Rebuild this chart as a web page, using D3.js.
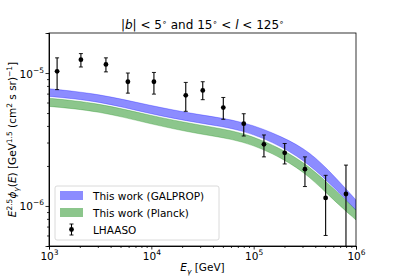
<!DOCTYPE html>
<html>
<head>
<meta charset="utf-8">
<script src="https://cdn.jsdelivr.net/npm/d3@7"></script>
<style>
  body { margin: 0; background: #fff; }
  text { font-family: "DejaVu Sans", sans-serif; fill: #000; }
  .axis path, .axis line { stroke: #000; stroke-width: 0.8; }
</style>
</head>
<body>
<script>
// LHAASO points
const energies = [1200, 2050, 3600, 5900, 10600, 21700, 31800, 50500, 80000, 126000, 201000, 317000, 505000, 798000];
const flux     = [1.03e-5, 1.26e-5, 1.16e-5, 8.6e-6, 8.6e-6, 6.8e-6, 7.4e-6, 5.5e-6, 4.16e-6, 2.91e-6, 2.51e-6, 1.89e-6, 1.15e-6, 1.23e-6];
const fluxLow  = [7.5e-6, 1.11e-5, 1.02e-5, 7.06e-6, 6.94e-6, 5.15e-6, 6.3e-6, 4.49e-6, 3.36e-6, 2.34e-6, 2.07e-6, 1.4e-6, 6.0e-7, 3.0e-7];
const fluxHigh = [1.3e-5, 1.4e-5, 1.3e-5, 1.0e-5, 1.01e-5, 8.5e-6, 8.6e-6, 6.55e-6, 4.94e-6, 3.42e-6, 2.95e-6, 2.34e-6, 1.7e-6, 2.03e-6];

// model bands
const bandE     = [1000, 3080, 9500, 29200, 79300, 195000, 356000, 600000, 1000000];
const galpropHi = [7.62e-6, 6.98e-6, 5.71e-6, 4.84e-6, 4.36e-6, 3.30e-6, 2.55e-6, 1.71e-6, 1.11e-6];
const galpropLo = [6.67e-6, 6.15e-6, 4.94e-6, 4.19e-6, 3.76e-6, 2.78e-6, 2.03e-6, 1.40e-6, 9.3e-7];
const planckHi  = [6.47e-6, 5.94e-6, 4.81e-6, 4.05e-6, 3.61e-6, 2.66e-6, 1.97e-6, 1.36e-6, 9.3e-7];
const planckLo  = [5.61e-6, 5.18e-6, 4.16e-6, 3.46e-6, 3.12e-6, 2.28e-6, 1.66e-6, 1.11e-6, 7.85e-7];

const xTicks = [1e3, 1e4, 1e5, 1e6];
const xTickExp = ["3", "4", "5", "6"];
const yTicks = [1e-6, 1e-5];
const yTickExp = ["\u22126", "\u22125"];

const W = 396, H = 277;
const margin = {top: 33, right: 40, bottom: 31, left: 49};
const width = W - margin.left - margin.right;
const height = H - margin.top - margin.bottom;

const svg = d3.select("body").append("svg")
  .attr("width", W).attr("height", H);

const g = svg.append("g")
  .attr("transform", "translate(" + margin.left + "," + margin.top + ")");

const xScale = d3.scaleLog().domain([1e3, 1e6]).range([0, width]);
const yScale = d3.scaleLog().domain([5e-7, 2e-5]).range([height, 0]);

g.append("clipPath").attr("id", "clip")
  .append("rect").attr("width", width).attr("height", height);

const plot = g.append("g").attr("clip-path", "url(#clip)");

function band(hi, lo) {
  return d3.area()
    .x((d, i) => xScale(bandE[i]))
    .y0((d, i) => yScale(lo[i]))
    .y1((d, i) => yScale(hi[i]))
    .curve(d3.curveBasis)(bandE);
}

plot.append("path").attr("d", band(galpropHi, galpropLo))
  .attr("fill", "#0000ff").attr("fill-opacity", 0.45)
  .attr("stroke", "#0000ff").attr("stroke-opacity", 0.45).attr("stroke-width", 0.6);
plot.append("path").attr("d", band(planckHi, planckLo))
  .attr("fill", "#008000").attr("fill-opacity", 0.45)
  .attr("stroke", "#008000").attr("stroke-opacity", 0.45).attr("stroke-width", 0.6);

// error bars
const pts = energies.map((e, i) => ({e: e, f: flux[i], lo: fluxLow[i], hi: fluxHigh[i]}));
const eb = plot.selectAll(".eb").data(pts).enter().append("g").attr("class", "eb");
eb.append("line")
  .attr("x1", d => xScale(d.e)).attr("x2", d => xScale(d.e))
  .attr("y1", d => yScale(d.lo)).attr("y2", d => yScale(d.hi))
  .attr("stroke", "#000").attr("stroke-width", 1.1);
eb.append("line")
  .attr("x1", d => xScale(d.e) - 2).attr("x2", d => xScale(d.e) + 2)
  .attr("y1", d => yScale(d.hi)).attr("y2", d => yScale(d.hi))
  .attr("stroke", "#000").attr("stroke-width", 0.9);
eb.append("line")
  .attr("x1", d => xScale(d.e) - 2).attr("x2", d => xScale(d.e) + 2)
  .attr("y1", d => yScale(d.lo)).attr("y2", d => yScale(d.lo))
  .attr("stroke", "#000").attr("stroke-width", 0.9);
eb.append("circle")
  .attr("cx", d => xScale(d.e)).attr("cy", d => yScale(d.f))
  .attr("r", 2.4).attr("fill", "#000");

// axes
function minorTicks(lo, hi) {
  let out = [];
  for (let p = Math.floor(Math.log10(lo)); p <= Math.ceil(Math.log10(hi)); p++) {
    for (let k = 2; k <= 9; k++) {
      let v = k * Math.pow(10, p);
      if (v >= lo * 0.999 && v <= hi * 1.001) out.push(v);
    }
  }
  return out;
}

g.append("g").attr("class", "axis")
  .attr("transform", "translate(0," + height + ")")
  .call(d3.axisBottom(xScale).tickValues(minorTicks(1e3, 1e6)).tickSize(2).tickFormat(""));
g.append("g").attr("class", "axis")
  .call(d3.axisLeft(yScale).tickValues(minorTicks(5e-7, 2e-5)).tickSize(2).tickFormat(""));

const xAxis = g.append("g").attr("class", "axis")
  .attr("transform", "translate(0," + height + ")")
  .call(d3.axisBottom(xScale).tickValues(xTicks).tickSize(3.5).tickFormat(""));
const yAxis = g.append("g").attr("class", "axis")
  .call(d3.axisLeft(yScale).tickValues(yTicks).tickSize(3.5).tickFormat(""));

xAxis.selectAll(".tick").each(function(d, i) {
  const t = d3.select(this).append("text")
    .attr("y", 14).attr("text-anchor", "middle").attr("font-size", 10.5).attr("fill", "#000");
  t.append("tspan").text("10");
  t.append("tspan").attr("dy", -5).attr("font-size", 7.5).text(xTickExp[i]);
});
yAxis.selectAll(".tick").each(function(d, i) {
  const t = d3.select(this).append("text")
    .attr("x", -5).attr("y", 4).attr("text-anchor", "end").attr("font-size", 10.5).attr("fill", "#000");
  t.append("tspan").text("10");
  t.append("tspan").attr("dy", -5).attr("font-size", 7.5).text(yTickExp[i]);
});

// frame
g.append("rect").attr("width", width).attr("height", height)
  .attr("fill", "none").attr("stroke", "#000").attr("stroke-width", 0.8);

// title
const title = svg.append("text")
  .attr("x", margin.left + width / 2).attr("y", 29)
  .attr("text-anchor", "middle").attr("font-size", 12);
title.append("tspan").text("|");
title.append("tspan").attr("font-style", "italic").text("b");
title.append("tspan").text("| < 5");
title.append("tspan").attr("dy", -4).attr("font-size", 8).text("\u2218");
title.append("tspan").attr("dy", 4).text(" and 15");
title.append("tspan").attr("dy", -4).attr("font-size", 8).text("\u2218");
title.append("tspan").attr("dy", 4).text(" < ");
title.append("tspan").attr("font-style", "italic").text("l");
title.append("tspan").text(" < 125");
title.append("tspan").attr("dy", -4).attr("font-size", 8).text("\u2218");

// x label
const xl = svg.append("text")
  .attr("x", margin.left + width / 2).attr("y", 271)
  .attr("text-anchor", "middle").attr("font-size", 10.5);
xl.append("tspan").attr("font-style", "italic").text("E");
xl.append("tspan").attr("dy", 3).attr("font-size", 7.5).attr("font-style", "italic").text("\u03b3");
xl.append("tspan").attr("dy", -3).text(" [GeV]");

// y label
const yl = svg.append("text")
  .attr("transform", "translate(16," + (margin.top + height / 2) + ") rotate(-90)")
  .attr("text-anchor", "middle").attr("font-size", 10.5);
yl.append("tspan").attr("font-style", "italic").text("E");
yl.append("tspan").attr("dy", -4).attr("font-size", 7.5).text("2.5");
yl.append("tspan").attr("dy", 4).attr("font-style", "italic").text("\u03d5");
yl.append("tspan").attr("dy", 3).attr("font-size", 7.5).attr("font-style", "italic").text("\u03b3");
yl.append("tspan").attr("dy", -3).text("(");
yl.append("tspan").attr("font-style", "italic").text("E");
yl.append("tspan").text(") [GeV");
yl.append("tspan").attr("dy", -4).attr("font-size", 7.5).text("1.5");
yl.append("tspan").attr("dy", 4).text(" (cm");
yl.append("tspan").attr("dy", -4).attr("font-size", 7.5).text("2");
yl.append("tspan").attr("dy", 4).text(" s sr)");
yl.append("tspan").attr("dy", -4).attr("font-size", 7.5).text("\u22121");
yl.append("tspan").attr("dy", 4).text("]");

// legend
const lg = svg.append("g").attr("transform", "translate(55,186)");
lg.append("rect").attr("width", 164).attr("height", 54)
  .attr("rx", 2).attr("fill", "#fff").attr("fill-opacity", 0.8)
  .attr("stroke", "#d0d0d0").attr("stroke-width", 0.8);
lg.append("rect").attr("x", 5).attr("y", 5).attr("width", 23).attr("height", 9)
  .attr("fill", "#0000ff").attr("fill-opacity", 0.45);
lg.append("rect").attr("x", 5).attr("y", 22).attr("width", 23).attr("height", 9)
  .attr("fill", "#008000").attr("fill-opacity", 0.45);
lg.append("line").attr("x1", 16.5).attr("x2", 16.5).attr("y1", 38).attr("y2", 49)
  .attr("stroke", "#000").attr("stroke-width", 1.1);
lg.append("line").attr("x1", 14.5).attr("x2", 18.5).attr("y1", 38).attr("y2", 38)
  .attr("stroke", "#000").attr("stroke-width", 0.9);
lg.append("line").attr("x1", 14.5).attr("x2", 18.5).attr("y1", 49).attr("y2", 49)
  .attr("stroke", "#000").attr("stroke-width", 0.9);
lg.append("circle").attr("cx", 16.5).attr("cy", 43.5).attr("r", 2.4).attr("fill", "#000");
const legendLabels = ["This work (GALPROP)", "This work (Planck)", "LHAASO"];
lg.selectAll(".lt").data(legendLabels).enter().append("text")
  .attr("x", 38).attr("y", (d, i) => 13.5 + i * 17)
  .attr("font-size", 10.5).text(d => d);
</script>
</body>
</html>
